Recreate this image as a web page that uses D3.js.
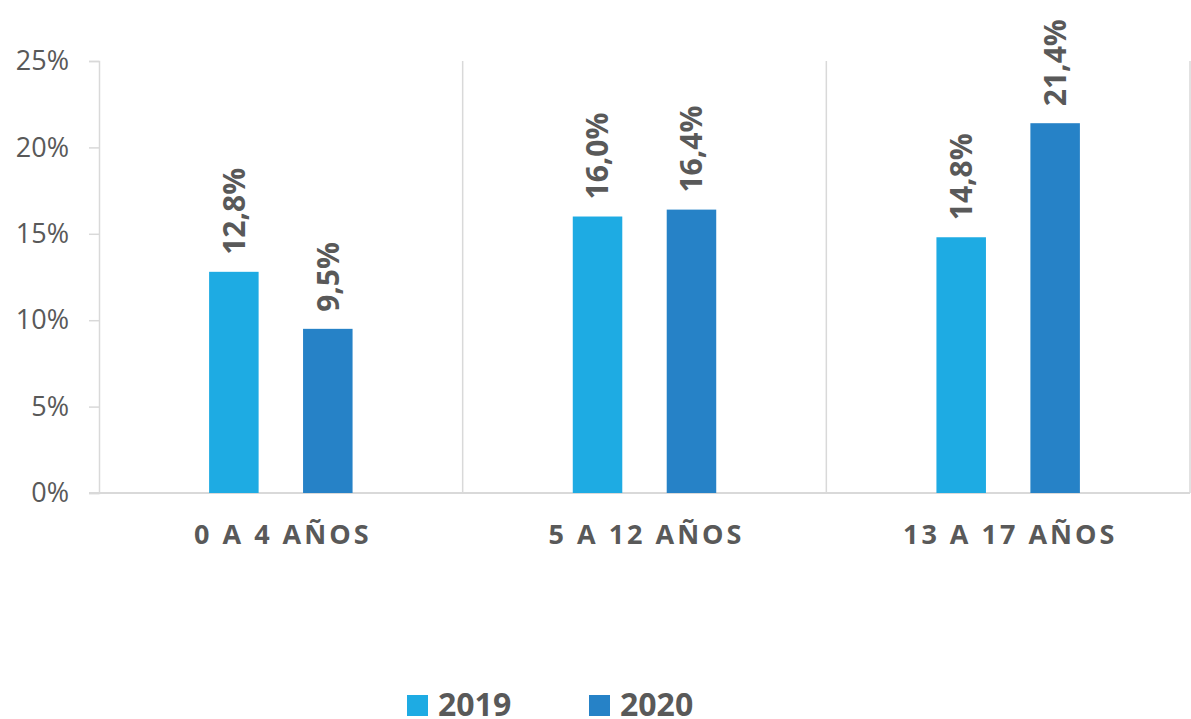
<!DOCTYPE html>
<html lang="es">
<head>
  <meta charset="UTF-8" />
  <title>Grupos de edad 2019 - 2020</title>
  <script src="https://d3js.org/d3.v7.min.js"></script>
  <style>
    body { margin: 0; background: #fff; font-family: "Open Sans", sans-serif; }
    svg { display: block; }
  </style>
</head>
<body>
  <svg width="1191" height="719"></svg>

  <script>
  // data
  const categories = ["0 A 4 AÑOS", "5 A 12 AÑOS", "13 A 17 AÑOS"];
  const years = ["2019", "2020"];
  const values2019 = [12.8, 16.0, 14.8];
  const values2020 = [9.5, 16.4, 21.4];
  const yTicks = [0, 5, 10, 15, 20, 25];

  const colors = { "2019": "#1EABE3", "2020": "#2682C7" };
  const textColor = "#595959";
  const gridColor = "#D9D9D9";

  const svg = d3.select("svg");
  const margin = { top: 61, right: 1, bottom: 226, left: 99 };
  const width = +svg.attr("width");
  const height = +svg.attr("height");
  const plotRight = width - margin.right;
  const plotBottom = height - margin.bottom;

  const rows = categories.map((c, i) => ({
    cat: c,
    vals: [
      { year: "2019", value: values2019[i] },
      { year: "2020", value: values2020[i] }
    ]
  }));

  const x0 = d3.scaleBand()
    .domain(categories)
    .range([margin.left, plotRight])
    .padding(0);

  const x1 = d3.scaleBand()
    .domain(years)
    .range([0, x0.bandwidth()])
    .paddingInner(0.473)
    .paddingOuter(1.172);

  const y = d3.scaleLinear()
    .domain([0, 25])
    .range([plotBottom, margin.top]);

  // vertical separators between categories
  svg.append("g")
    .selectAll("line")
    .data(categories)
    .enter().append("line")
    .attr("x1", d => x0(d) + x0.bandwidth())
    .attr("x2", d => x0(d) + x0.bandwidth())
    .attr("y1", y(25))
    .attr("y2", y(0))
    .attr("stroke", gridColor)
    .attr("stroke-width", 1.5);

  // y axis
  const yAxis = svg.append("g")
    .attr("transform", `translate(${margin.left},0)`)
    .call(d3.axisLeft(y).tickValues(yTicks).tickSize(10).tickPadding(20)
      .tickFormat(d => d + "%"));
  yAxis.select(".domain").attr("stroke", gridColor).attr("stroke-width", 1.5);
  yAxis.selectAll(".tick line").attr("stroke", gridColor).attr("stroke-width", 1.5);
  yAxis.selectAll(".tick text")
    .attr("fill", textColor)
    .style("font", "27px 'Open Sans', sans-serif");

  // baseline
  svg.append("line")
    .attr("x1", margin.left - 10)
    .attr("x2", plotRight)
    .attr("y1", y(0))
    .attr("y2", y(0))
    .attr("stroke", gridColor)
    .attr("stroke-width", 2);

  // bars
  const groups = svg.append("g")
    .selectAll("g")
    .data(rows)
    .enter().append("g")
    .attr("transform", d => `translate(${x0(d.cat)},0)`);

  groups.selectAll("rect")
    .data(d => d.vals)
    .enter().append("rect")
    .attr("x", d => x1(d.year))
    .attr("y", d => y(d.value))
    .attr("width", x1.bandwidth())
    .attr("height", d => y(0) - y(d.value))
    .attr("fill", d => colors[d.year]);

  // value labels, rotated
  groups.selectAll("text")
    .data(d => d.vals)
    .enter().append("text")
    .attr("transform", d =>
      `translate(${x1(d.year) + x1.bandwidth() / 2},${y(d.value) - 17}) rotate(-90)`)
    .attr("dy", "0.36em")
    .attr("text-anchor", "start")
    .attr("fill", textColor)
    .style("font", "bold 30px 'Open Sans', sans-serif")
    .text(d => d3.format(".1f")(d.value).replace(".", ",") + "%");

  // category labels
  svg.append("g")
    .selectAll("text")
    .data(categories)
    .enter().append("text")
    .attr("x", d => x0(d) + x0.bandwidth() / 2 + 2)
    .attr("y", plotBottom + 51)
    .attr("text-anchor", "middle")
    .attr("fill", textColor)
    .style("font", "bold 27px 'Open Sans', sans-serif")
    .style("letter-spacing", "3px")
    .text(d => d);

  // legend
  const legend = svg.append("g")
    .selectAll("g")
    .data(years)
    .enter().append("g")
    .attr("transform", (d, i) => `translate(${407 + i * 182},695)`);

  legend.append("rect")
    .attr("width", 21)
    .attr("height", 21)
    .attr("fill", d => colors[d]);

  legend.append("text")
    .attr("x", 31)
    .attr("y", 21)
    .attr("fill", textColor)
    .style("font", "bold 32px 'Open Sans', sans-serif")
    .text(d => d);
  </script>
</body>
</html>
